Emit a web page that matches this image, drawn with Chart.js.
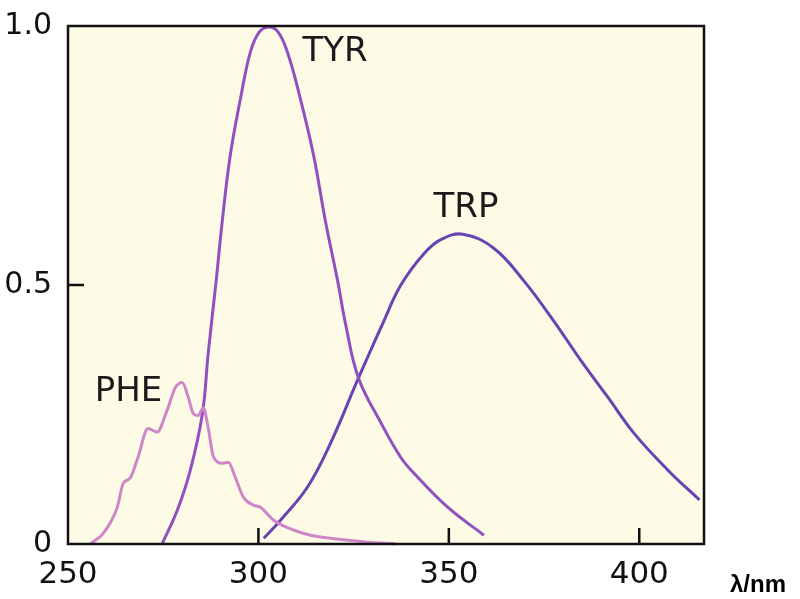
<!DOCTYPE html>
<html>
<head>
<meta charset="utf-8">
<script src="https://cdn.jsdelivr.net/npm/chart.js@4/dist/chart.umd.min.js"></script>
<style>
  html, body { margin: 0; padding: 0; background: #fff; }
  #wrap { width: 800px; height: 599px; position: relative; }
</style>
</head>
<body>
<div id="wrap"><canvas id="spectra"></canvas></div>
<script>
// tick labels
const xTicks = [250, 300, 350, 400];
const yTicks = [0, 0.5, 1.0];
const yTickLabels = ['0', '0.5', '1.0'];

// PHE emission
const pheX = [255.8, 259.2, 262.9, 264.5, 266.3, 268.4, 271, 273.4, 276, 278.2, 280, 281.6, 282.9, 284.2, 285.5, 286.8, 288.2, 290.5, 292.1, 293.9, 296.1, 298.7, 300.5, 304, 309.2, 313.7, 320, 328, 336];
const pheY = [0, 0.02, 0.07, 0.117, 0.127, 0.168, 0.223, 0.216, 0.258, 0.302, 0.312, 0.283, 0.252, 0.248, 0.263, 0.225, 0.168, 0.156, 0.158, 0.129, 0.09, 0.075, 0.071, 0.046, 0.027, 0.017, 0.01, 0.004, 0];

// TYR emission
const tyrX = [274.7, 278.7, 282.1, 285.3, 286.8, 288.9, 290.5, 292.6, 295.3, 297.9, 300.2, 302.6, 305, 307.6, 311, 314.5, 317.6, 320.8, 322.9, 326.3, 332.1, 337.4, 340.8, 349.7, 359.2];
const tyrY = [0, 0.065, 0.142, 0.252, 0.367, 0.508, 0.623, 0.75, 0.86, 0.95, 0.988, 0.998, 0.99, 0.95, 0.86, 0.75, 0.623, 0.508, 0.424, 0.32, 0.235, 0.167, 0.137, 0.071, 0.017];

// TRP emission
const trpX = [301.4, 305.8, 312.9, 318.9, 326.3, 332.9, 337.4, 343.4, 348, 353.7, 361.8, 369.7, 377.6, 384.7, 391.8, 398.7, 407.6, 415.8];
const trpY = [0.011, 0.046, 0.11, 0.194, 0.321, 0.43, 0.5, 0.56, 0.588, 0.598, 0.571, 0.508, 0.43, 0.354, 0.283, 0.213, 0.142, 0.085];

// curve labels, placed in data units
const curveLabels = [
  { text: 'TYR', x: 320.1, y: 0.949 },
  { text: 'TRP', x: 354.5, y: 0.649 },
  { text: 'PHE', x: 265.9, y: 0.293 },
];

const pairs = (xs, ys) => xs.map((x, i) => ({ x, y: ys[i] }));

const framePlugin = {
  id: 'frame',
  beforeDraw(chart) {
    const { ctx, chartArea: a } = chart;
    ctx.save();
    ctx.fillStyle = '#fdfbe6';
    ctx.fillRect(a.left, a.top, a.right - a.left, a.bottom - a.top);
    ctx.restore();
  },
  afterDatasetsDraw(chart) {
    const { ctx, chartArea: a, scales } = chart;
    ctx.save();
    ctx.strokeStyle = '#111';
    ctx.lineWidth = 2.5;
    ctx.strokeRect(a.left, a.top, a.right - a.left, a.bottom - a.top);
    // inner tick marks
    ctx.beginPath();
    xTicks.slice(1).forEach(v => {
      const px = scales.x.getPixelForValue(v);
      ctx.moveTo(px, a.bottom);
      ctx.lineTo(px, a.bottom - 16);
    });
    const py = scales.y.getPixelForValue(0.5);
    ctx.moveTo(a.left, py);
    ctx.lineTo(a.left + 16, py);
    ctx.stroke();

    ctx.fillStyle = '#1a1a1a';
    ctx.font = '34px "DejaVu Sans"';
    ctx.textAlign = 'center';
    ctx.textBaseline = 'middle';
    curveLabels.forEach(l => {
      ctx.fillText(l.text, scales.x.getPixelForValue(l.x), scales.y.getPixelForValue(l.y));
    });

    ctx.font = 'bold 24px "Liberation Sans"';
    ctx.fillStyle = '#000';
    ctx.fillText('λ/nm', 758, 585);
    ctx.restore();
  }
};

const line = (data, color, smooth) => ({
  data,
  borderColor: color,
  borderWidth: 3,
  pointRadius: 0,
  fill: false,
  tension: 0.4,
  cubicInterpolationMode: smooth,
  clip: false,
});

new Chart(document.getElementById('spectra'), {
  type: 'line',
  data: {
    datasets: [
      line(pairs(pheX, pheY), '#cf86c9', 'monotone'),
      line(pairs(tyrX, tyrY), '#9150c0', 'default'),
      line(pairs(trpX, trpY), '#6844b2', 'default'),
    ]
  },
  options: {
    responsive: true,
    maintainAspectRatio: false,
    animation: false,
    layout: { padding: { top: 24, right: 96, left: 0, bottom: 0 } },
    plugins: { legend: { display: false }, tooltip: { enabled: false } },
    scales: {
      x: {
        type: 'linear',
        min: 250,
        max: 417,
        afterBuildTicks: s => { s.ticks = xTicks.map(v => ({ value: v })); },
        afterFit: s => { s.height = 55; },
        grid: { display: false },
        border: { display: false },
        ticks: {
          color: '#111',
          padding: 4,
          maxRotation: 0,
          font: { family: '"DejaVu Sans"', size: 31 },
        },
      },
      y: {
        min: 0,
        max: 1,
        afterBuildTicks: s => { s.ticks = yTicks.map(v => ({ value: v })); },
        afterFit: s => { s.width = 68; },
        grid: { display: false },
        border: { display: false },
        ticks: {
          color: '#111',
          padding: 8,
          font: { family: '"DejaVu Sans"', size: 30 },
          callback: (v) => yTickLabels[yTicks.indexOf(v)] ?? '',
        },
      },
    },
  },
  plugins: [framePlugin],
});
</script>
</body>
</html>
